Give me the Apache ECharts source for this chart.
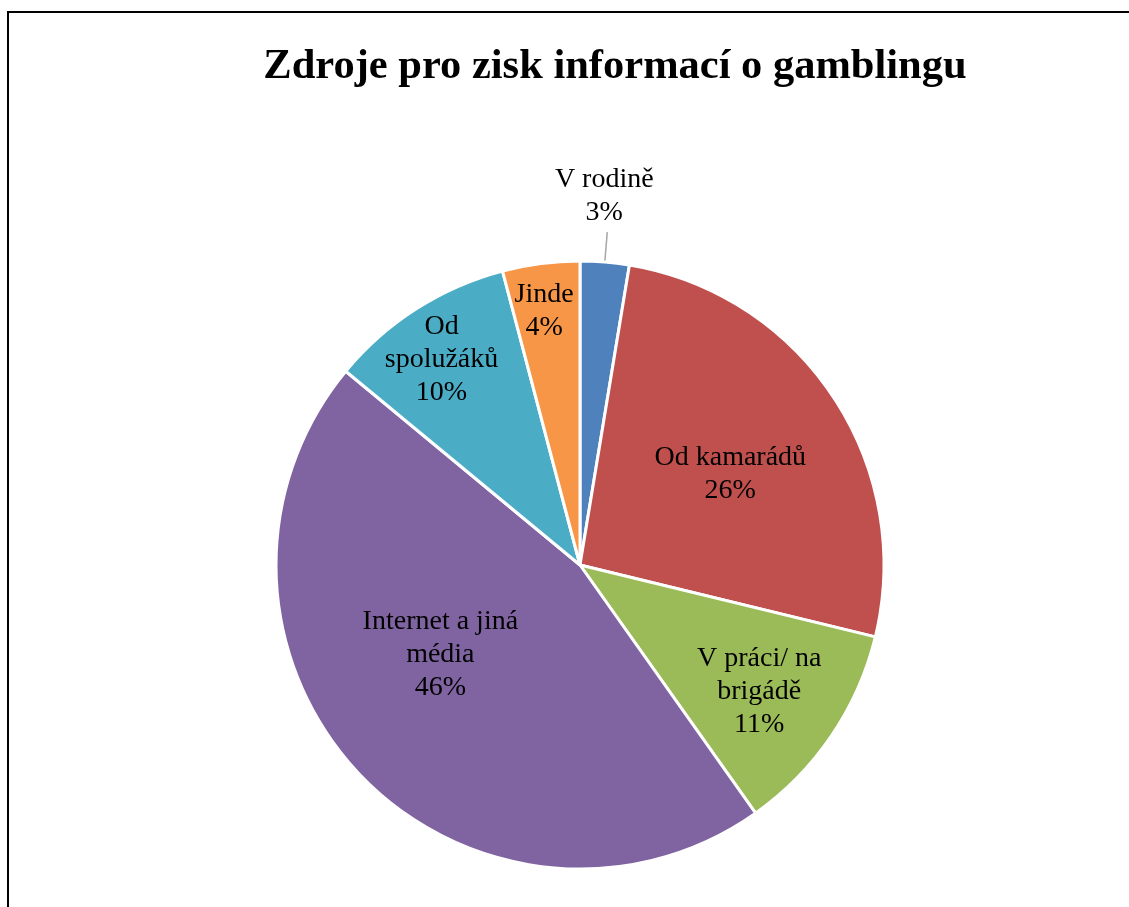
<!DOCTYPE html>
<html>
<head>
<meta charset="utf-8">
<script src="https://cdn.jsdelivr.net/npm/echarts@6/dist/echarts.min.js"></script>
<style>
html,body{margin:0;padding:0;background:#fff;overflow:hidden;}
#frame{position:absolute;left:7px;top:11px;width:1300px;height:1100px;border:2px solid #000;box-sizing:border-box;}
#chart{position:absolute;left:0;top:0;width:1129px;height:907px;}
</style>
</head>
<body>
<div id="frame"></div>
<div id="chart"></div>
<script>
const titleText = 'Zdroje pro zisk informací o gamblingu';
const categories = ['V rodině', 'Od kamarádů', 'V práci/ na\nbrigádě', 'Internet a jiná\nmédia', 'Od\nspolužáků', 'Jinde'];
const values = [2.6, 26.2, 11.4, 45.8, 9.9, 4.1];
const colors = ['#4F81BD', '#C0504D', '#9BBB59', '#8064A2', '#4BACC6', '#F79646'];
const labelOffsets = [[0, 0], [21, -5], [51, 40], [-26, -16], [-55, -75], [-16, -100]];

const chart = echarts.init(document.getElementById('chart'), null, {renderer: 'canvas'});
const data = categories.map((c, i) => ({
  name: c,
  value: values[i],
  itemStyle: {color: colors[i]},
  label: i === 0 ? {position: 'outside'} : {position: 'inside', offset: labelOffsets[i]},
  labelLine: {show: i === 0}
}));
chart.setOption({
  animation: false,
  title: {
    text: titleText,
    left: 610, top: 41, textAlign: 'center',
    textStyle: {fontFamily: 'Liberation Serif', fontWeight: 'bold', fontSize: 42.5, color: '#000'}
  },
  series: [{
    type: 'pie',
    center: [580, 565],
    radius: [0, 304],
    startAngle: 90,
    clockwise: true,
    avoidLabelOverlap: false,
    data: data,
    itemStyle: {borderColor: '#fff', borderWidth: 3},
    label: {
      show: true,
      fontFamily: 'Liberation Serif',
      fontSize: 28,
      lineHeight: 33,
      color: '#000',
      align: 'center',
      formatter: p => p.name + '\n' + Math.round(p.value) + '%'
    },
    labelLine: {length: 30, length2: 0, lineStyle: {color: '#A6A6A6', width: 1.5}},
    labelLayout: function (p) {
      if (p.dataIndex === 0) return {align: 'center', verticalAlign: 'bottom', dx: -8, dy: -3};
      return {};
    },
    emphasis: {disabled: true}
  }]
});
</script>
</body>
</html>
